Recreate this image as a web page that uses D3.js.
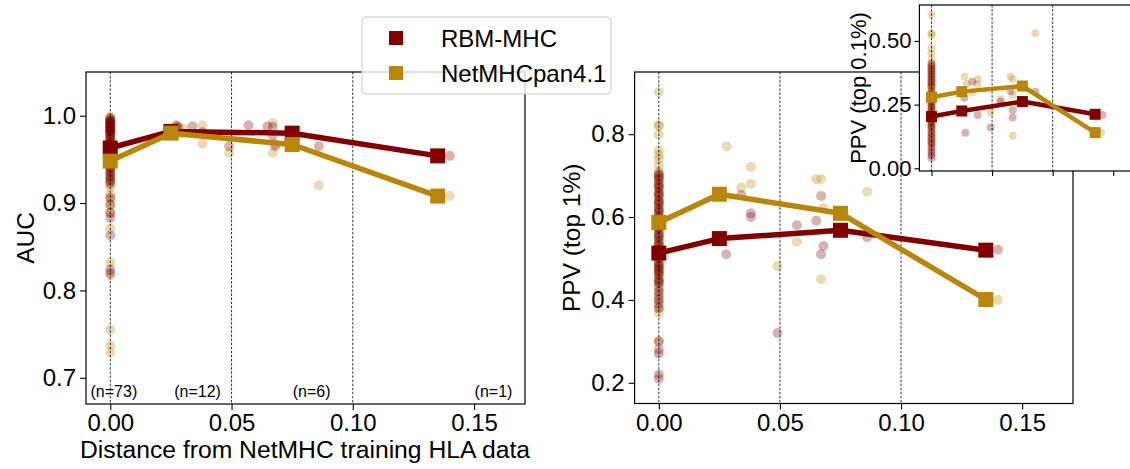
<!DOCTYPE html>
<html><head><meta charset="utf-8">
<script src="https://cdn.jsdelivr.net/npm/d3@7"></script>
<style>html,body{margin:0;padding:0;background:#fff;} svg{display:block;}</style>
</head><body><svg id="chart" width="1130" height="469"></svg>
<script>
// ---------------- DATA ----------------
const seriesNames = ["RBM-MHC", "NetMHCpan4.1"];
const binX = [0, 0.025, 0.075, 0.135];
const xTicks = [0, 0.05, 0.10, 0.15];
const vlineX = [0, 0.05, 0.10];
const binCountLabels = ["(n=73)", "(n=12)", "(n=6)", "(n=1)"];
const binCountX = [0.0015, 0.036, 0.083, 0.158];

// AUC panel
const aucTicks = [0.7, 0.8, 0.9, 1.0];
const aucMeanRBM = [0.963, 0.982, 0.980, 0.954];
const aucMeanNet = [0.948, 0.980, 0.967, 0.908];
const aucZeroRBM = [0.997, 0.995, 0.994, 0.993, 0.992, 0.991, 0.990, 0.989, 0.988, 0.987, 0.986, 0.985, 0.984, 0.983, 0.982, 0.981, 0.979, 0.977, 0.975, 0.973, 0.970, 0.968, 0.966, 0.964, 0.962, 0.960, 0.957, 0.955, 0.952, 0.950, 0.948, 0.945, 0.942, 0.940, 0.937, 0.934, 0.931, 0.928, 0.925, 0.922, 0.906, 0.898, 0.889, 0.883, 0.863, 0.824, 0.820];
const aucZeroNet = [0.999, 0.997, 0.995, 0.993, 0.990, 0.988, 0.986, 0.984, 0.982, 0.980, 0.978, 0.975, 0.972, 0.970, 0.967, 0.964, 0.961, 0.958, 0.955, 0.952, 0.950, 0.947, 0.944, 0.940, 0.936, 0.932, 0.928, 0.924, 0.918, 0.910, 0.905, 0.898, 0.889, 0.871, 0.832, 0.817, 0.755, 0.737, 0.729];
const aucXRBM = [0.0272, 0.028, 0.0339, 0.038, 0.049, 0.057, 0.0648, 0.067, 0.067, 0.068, 0.086, 0.140];
const aucYRBM = [0.989, 0.987, 0.988, 0.981, 0.965, 0.989, 0.988, 0.987, 0.9775, 0.965, 0.965, 0.954];
const aucXNet = [0.0274, 0.030, 0.038, 0.038, 0.049, 0.067, 0.067, 0.068, 0.086, 0.140];
const aucYNet = [0.988, 0.985, 0.989, 0.968, 0.9575, 0.9916, 0.9575, 0.968, 0.920, 0.908];

// PPV (top 1%) panel
const ppv1Ticks = [0.2, 0.4, 0.6, 0.8];
const ppv1MeanRBM = [0.513, 0.548, 0.568, 0.520];
const ppv1MeanNet = [0.587, 0.655, 0.609, 0.401];
const ppv1ZeroRBM = [0.705, 0.70, 0.695, 0.69, 0.68, 0.675, 0.67, 0.66, 0.655, 0.65, 0.64, 0.635, 0.63, 0.62, 0.615, 0.61, 0.60, 0.595, 0.59, 0.58, 0.575, 0.57, 0.56, 0.555, 0.55, 0.54, 0.535, 0.53, 0.52, 0.51, 0.50, 0.49, 0.485, 0.48, 0.475, 0.47, 0.465, 0.46, 0.45, 0.445, 0.44, 0.43, 0.42, 0.41, 0.40, 0.39, 0.38, 0.30, 0.28, 0.27, 0.22, 0.21];
const ppv1ZeroNet = [0.902, 0.822, 0.82, 0.799, 0.761, 0.75, 0.74, 0.725, 0.71, 0.70, 0.69, 0.68, 0.67, 0.66, 0.65, 0.64, 0.63, 0.62, 0.61, 0.60, 0.59, 0.58, 0.57, 0.56, 0.55, 0.54, 0.53, 0.52, 0.51, 0.50, 0.49, 0.48, 0.47, 0.46, 0.45, 0.44, 0.42, 0.40, 0.38, 0.368, 0.30];
const ppv1XRBM = [0.0278, 0.034, 0.038, 0.038, 0.049, 0.057, 0.065, 0.067, 0.067, 0.068, 0.086, 0.140];
const ppv1YRBM = [0.510, 0.653, 0.609, 0.600, 0.320, 0.580, 0.591, 0.651, 0.510, 0.530, 0.551, 0.521];
const ppv1XNet = [0.028, 0.034, 0.038, 0.038, 0.049, 0.057, 0.065, 0.067, 0.068, 0.067, 0.086, 0.140];
const ppv1YNet = [0.770, 0.671, 0.721, 0.680, 0.481, 0.540, 0.691, 0.691, 0.621, 0.450, 0.661, 0.400];

// PPV (top 0.1%) inset
const ppv01Ticks = [0.0, 0.25, 0.5];
const ppv01MeanRBM = [0.203, 0.225, 0.262, 0.212];
const ppv01MeanNet = [0.279, 0.301, 0.323, 0.140];
const ppv01ZeroRBM = [0.41, 0.40, 0.39, 0.38, 0.37, 0.36, 0.35, 0.34, 0.33, 0.32, 0.30, 0.29, 0.28, 0.27, 0.26, 0.25, 0.24, 0.23, 0.22, 0.21, 0.20, 0.19, 0.18, 0.17, 0.16, 0.15, 0.14, 0.13, 0.12, 0.11, 0.10, 0.09, 0.08, 0.07, 0.06, 0.05, 0.04];
const ppv01ZeroNet = [0.603, 0.53, 0.523, 0.471, 0.451, 0.425, 0.41, 0.40, 0.39, 0.38, 0.37, 0.36, 0.35, 0.34, 0.33, 0.32, 0.31, 0.30, 0.29, 0.28, 0.27, 0.26, 0.25, 0.24, 0.23, 0.22, 0.21, 0.20, 0.19, 0.18, 0.17, 0.16, 0.14, 0.12, 0.10];
const ppv01XRBM = [0.027, 0.028, 0.0336, 0.038, 0.0488, 0.057, 0.0653, 0.067, 0.067, 0.0857, 0.141];
const ppv01YRBM = [0.277, 0.140, 0.340, 0.209, 0.160, 0.261, 0.303, 0.229, 0.199, 0.300, 0.209];
const ppv01XNet = [0.0273, 0.029, 0.0336, 0.038, 0.038, 0.0488, 0.057, 0.0653, 0.067, 0.067, 0.067, 0.0857, 0.140];
const ppv01YNet = [0.360, 0.331, 0.298, 0.350, 0.331, 0.220, 0.271, 0.360, 0.350, 0.288, 0.128, 0.530, 0.140];

// ---------------- DRAW ----------------
const FONT = '"Liberation Sans", Arial, Helvetica, sans-serif';
const RED = "#800000", GOLD = "#b8860b";
const svg = d3.select("#chart").attr("font-family", FONT);
const xDomain = [-0.01, 0.171];

function drawPanel(cfg) {
  const g = svg.append("g");
  const x = d3.scaleLinear().domain(xDomain).range([cfg.x0, cfg.x1]);
  const y = d3.scaleLinear().domain(cfg.yDomain).range([cfg.y1, cfg.y0]);
  g.append("rect").attr("x", cfg.x0).attr("y", cfg.y0)
    .attr("width", cfg.x1 - cfg.x0).attr("height", cfg.y1 - cfg.y0).attr("fill", "#fff");

  const series = [
    {color: RED, zero: cfg.zero[0], xs: cfg.xs[0], ys: cfg.ys[0], mean: cfg.mean[0]},
    {color: GOLD, zero: cfg.zero[1], xs: cfg.xs[1], ys: cfg.ys[1], mean: cfg.mean[1]}
  ];
  // scatter: gold underneath, red on top
  [series[1], series[0]].forEach(s => {
    const pts = s.zero.map(v => [0, v]).concat(s.xs.map((xv, i) => [xv, s.ys[i]]));
    g.append("g").selectAll("circle").data(pts).join("circle")
      .attr("cx", d => x(d[0])).attr("cy", d => y(d[1])).attr("r", cfg.r)
      .attr("fill", s.color).attr("fill-opacity", 0.3);
  });
  g.append("g").selectAll("line").data(vlineX).join("line")
    .attr("x1", d => x(d)).attr("x2", d => x(d)).attr("y1", cfg.y0).attr("y2", cfg.y1)
    .attr("stroke", "#000").attr("stroke-width", 0.8).attr("stroke-dasharray", "2.5,1.6");
  series.forEach(s => {
    const pts = binX.map((b, i) => [b, s.mean[i]]);
    g.append("path").datum(pts)
      .attr("d", d3.line().x(d => x(d[0])).y(d => y(d[1])))
      .attr("fill", "none").attr("stroke", s.color).attr("stroke-width", cfg.lw).attr("stroke-linejoin", "round");
    g.append("g").selectAll("rect").data(pts).join("rect")
      .attr("x", d => x(d[0]) - cfg.sq / 2).attr("y", d => y(d[1]) - cfg.sq / 2)
      .attr("width", cfg.sq).attr("height", cfg.sq).attr("fill", s.color);
  });
  g.append("rect").attr("x", cfg.x0).attr("y", cfg.y0)
    .attr("width", cfg.x1 - cfg.x0).attr("height", cfg.y1 - cfg.y0)
    .attr("fill", "none").attr("stroke", "#000").attr("stroke-width", 1.2);

  const ya = g.append("g").attr("transform", `translate(${cfg.x0},0)`)
    .call(d3.axisLeft(y).tickValues(cfg.yTicks).tickFormat(d3.format(cfg.yFmt)).tickSize(cfg.tick).tickPadding(cfg.pad));
  ya.select(".domain").remove();
  ya.selectAll("line").attr("stroke", "#000").attr("stroke-width", 1.1);
  ya.selectAll("text").attr("font-size", cfg.fs).attr("font-family", FONT).attr("fill", "#000");

  const xa = g.append("g").attr("transform", `translate(0,${cfg.y1})`)
    .call(d3.axisBottom(x).tickValues(xTicks).tickFormat(cfg.xLabels ? d3.format(".2f") : () => "").tickSize(cfg.tick).tickPadding(cfg.pad));
  xa.select(".domain").remove();
  xa.selectAll("line").attr("stroke", "#000").attr("stroke-width", 1.1);
  xa.selectAll("text").attr("font-size", cfg.fs).attr("font-family", FONT).attr("fill", "#000");

  g.append("text")
    .attr("transform", `translate(${cfg.ylabX},${(cfg.y0 + cfg.y1) / 2}) rotate(-90)`)
    .attr("text-anchor", "middle").attr("font-size", cfg.lfs).attr("fill", "#000")
    .text(cfg.ylabel);
  return {g, x, y};
}

const left = drawPanel({
  x0: 86, x1: 525, y0: 72, y1: 404, yDomain: [0.67, 1.05], yTicks: aucTicks, yFmt: ".1f",
  zero: [aucZeroRBM, aucZeroNet], xs: [aucXRBM, aucXNet], ys: [aucYRBM, aucYNet],
  mean: [aucMeanRBM, aucMeanNet], r: 5, lw: 5.5, sq: 15, tick: 6, pad: 4, fs: 24, lfs: 24.5,
  xLabels: true, ylabel: "AUC", ylabX: 34
});
left.g.append("g").selectAll("text").data(binCountLabels).join("text")
  .attr("x", (d, i) => left.x(binCountX[i])).attr("y", 397)
  .attr("text-anchor", "middle").attr("font-size", 16).attr("fill", "#000").text(d => d);
svg.append("text").attr("x", 305).attr("y", 458).attr("text-anchor", "middle")
  .attr("font-size", 24.7).attr("fill", "#000").text("Distance from NetMHC training HLA data");

drawPanel({
  x0: 634.6, x1: 1073, y0: 72, y1: 403.5, yDomain: [0.15, 0.95], yTicks: ppv1Ticks, yFmt: ".1f",
  zero: [ppv1ZeroRBM, ppv1ZeroNet], xs: [ppv1XRBM, ppv1XNet], ys: [ppv1YRBM, ppv1YNet],
  mean: [ppv1MeanRBM, ppv1MeanNet], r: 5, lw: 5.5, sq: 15, tick: 6, pad: 4, fs: 24, lfs: 24.5,
  xLabels: true, ylabel: "PPV (top 1%)", ylabX: 580
});

drawPanel({
  x0: 919.4, x1: 1138.7, y0: 5, y1: 171, yDomain: [-0.0106, 0.641], yTicks: ppv01Ticks, yFmt: ".2f",
  zero: [ppv01ZeroRBM, ppv01ZeroNet], xs: [ppv01XRBM, ppv01XNet], ys: [ppv01YRBM, ppv01YNet],
  mean: [ppv01MeanRBM, ppv01MeanNet], r: 4, lw: 4.5, sq: 11, tick: 5, pad: 3, fs: 22, lfs: 22,
  xLabels: false, ylabel: "PPV (top 0.1%)", ylabX: 866
});

// legend
const lg = svg.append("g");
lg.append("rect").attr("x", 362).attr("y", 17).attr("width", 249).attr("height", 77).attr("rx", 4)
  .attr("fill", "#fff").attr("fill-opacity", 0.8).attr("stroke", "#cccccc").attr("stroke-width", 1);
const legColors = [RED, GOLD];
const legY = [38, 73];
seriesNames.forEach((n, i) => {
  lg.append("rect").attr("x", 396 - 7).attr("y", legY[i] - 7).attr("width", 14).attr("height", 14).attr("fill", legColors[i]);
  lg.append("text").attr("x", 441).attr("y", legY[i] + 8.5).attr("font-size", 24).attr("fill", "#000").text(n);
});
</script></body></html>
